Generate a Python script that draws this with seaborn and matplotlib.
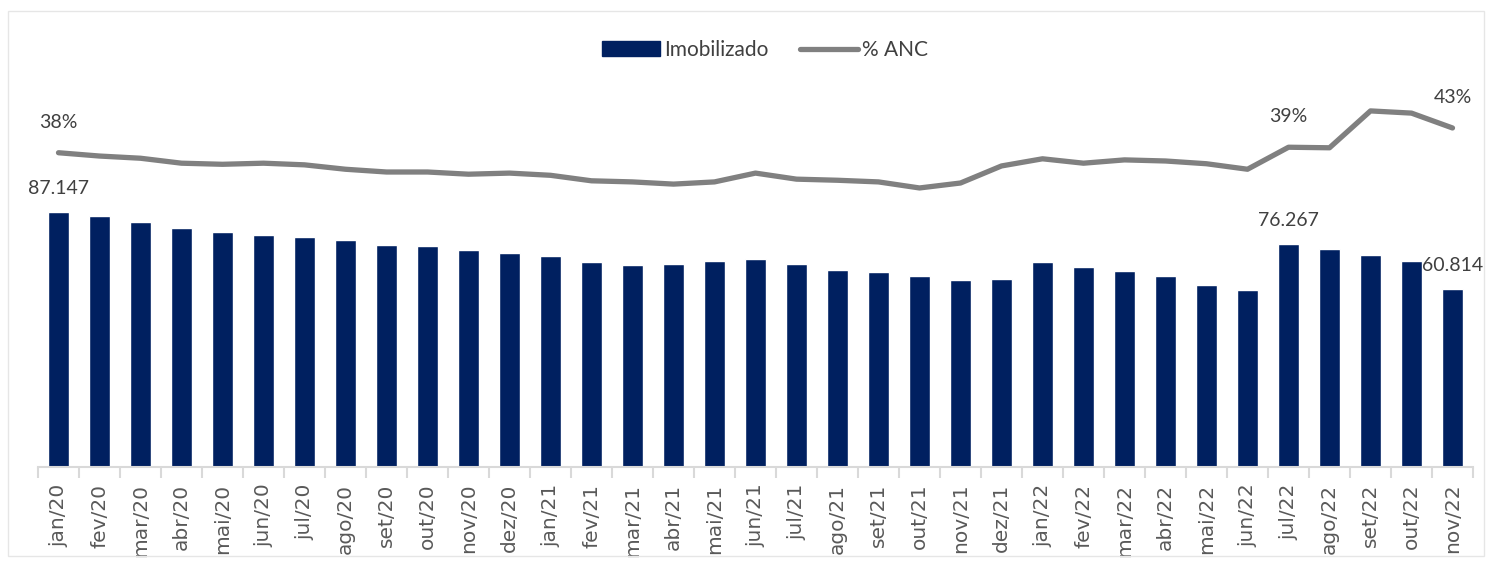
import numpy as np
import pandas as pd
import matplotlib
matplotlib.use("Agg")
import matplotlib.pyplot as plt
import seaborn as sns
from matplotlib.patches import Rectangle
from matplotlib.lines import Line2D

# dados
meses = ["jan/20", "fev/20", "mar/20", "abr/20", "mai/20", "jun/20", "jul/20", "ago/20",
         "set/20", "out/20", "nov/20", "dez/20", "jan/21", "fev/21", "mar/21", "abr/21",
         "mai/21", "jun/21", "jul/21", "ago/21", "set/21", "out/21", "nov/21", "dez/21",
         "jan/22", "fev/22", "mar/22", "abr/22", "mai/22", "jun/22", "jul/22", "ago/22",
         "set/22", "out/22", "nov/22"]
imobilizado = [87147, 85800, 83700, 81700, 80300, 79300, 78600, 77600,
               75900, 75500, 74200, 73100, 72100, 70100, 69000, 69400,
               70400, 71100, 69400, 67300, 66600, 65300, 63900, 64200,
               70100, 68300, 67000, 65300, 62200, 60600, 76267, 74500,
               72500, 70400, 60814]
anc = [0.384, 0.378, 0.374, 0.365, 0.363, 0.365, 0.362, 0.354,
       0.349, 0.349, 0.345, 0.347, 0.343, 0.333, 0.331, 0.327,
       0.331, 0.347, 0.336, 0.334, 0.331, 0.320, 0.329, 0.360,
       0.373, 0.365, 0.371, 0.369, 0.364, 0.354, 0.394, 0.393,
       0.460, 0.456, 0.429]
rotulos_barra = [0, 30, 34]
rotulos_linha = [0, 30, 34]

df = pd.DataFrame({"mes": meses, "Imobilizado": imobilizado, "ANC": anc})
df["pos"] = np.arange(len(df))

sns.set_style("white")
plt.rcParams["font.family"] = ["DejaVu Sans"]
fonte_rot = ["Lato", "DejaVu Sans"]

fig = plt.figure(figsize=(14.91, 5.64), dpi=100)
ax = fig.add_axes([38 / 1491, 1 - 467 / 564, 1435 / 1491, 407 / 564])

# moldura do gráfico
fig.patches.append(Rectangle((8 / 1491, 8 / 564), 1476 / 1491, 545 / 564,
                             transform=fig.transFigure, fill=False,
                             edgecolor="#e6e6e6", linewidth=1))

sns.barplot(data=df, x="mes", y="Imobilizado", color="#002060", width=0.5,
            saturation=1, ax=ax)
ax.set_ylim(0, 139100)
ax.set_xlim(-0.5, len(df) - 0.5)

cinza_txt = "#404040"
for i in rotulos_barra:
    v = imobilizado[i]
    ax.annotate(f"{v:,.0f}".replace(",", "."), (i, v), xytext=(0, 11),
                textcoords="offset points", ha="center", va="bottom",
                fontsize=14, color=cinza_txt, family=fonte_rot)

ax2 = ax.twinx()
sns.lineplot(data=df, x="pos", y="ANC", color="#808080", linewidth=3.8, ax=ax2)
ax2.set_ylim(-0.187, 0.5525)
for i in rotulos_linha:
    v = anc[i]
    ax2.annotate(f"{v:.0%}", (i, v), xytext=(0, 16), textcoords="offset points",
                 ha="center", va="bottom", fontsize=14, color=cinza_txt,
                 family=fonte_rot)

for a in (ax, ax2):
    a.set_ylabel("")
    a.set_yticks([])
    for s in ("left", "right", "top"):
        a.spines[s].set_visible(False)
ax2.spines["bottom"].set_visible(False)
ax.spines["bottom"].set_color("#d9d9d9")
ax.spines["bottom"].set_linewidth(1.5)

ax.set_xticks(np.arange(len(df)))
ax.set_xticklabels(meses, rotation=90, fontsize=14.5, color="#595959",
                   family="DejaVu Sans")
ax.set_xticks(np.arange(len(df) + 1) - 0.5, minor=True)
ax.set_xlim(-0.5, len(df) - 0.5)
ax.set_xlabel("")
ax2.set_xlabel("")
ax.tick_params(axis="x", which="major", length=0, pad=12, labelbottom=True)
ax.tick_params(axis="x", which="minor", bottom=True, length=8, width=1.5,
               color="#d9d9d9")
ax2.tick_params(axis="x", which="both", length=0, labelbottom=False, labeltop=False)

handles = [Rectangle((0, 0), 1, 1, color="#002060"),
           Line2D([0], [0], color="#808080", linewidth=3.8)]
fig.legend(handles, ["Imobilizado", "% ANC"], loc="center",
           bbox_to_anchor=(765 / 1491, 1 - 50 / 564), ncol=2, frameon=False,
           prop={"family": fonte_rot, "size": 15},
           labelcolor=cinza_txt, handlelength=2.8, handletextpad=0.2,
           columnspacing=1.5)

fig.savefig("out.png", dpi=100)
